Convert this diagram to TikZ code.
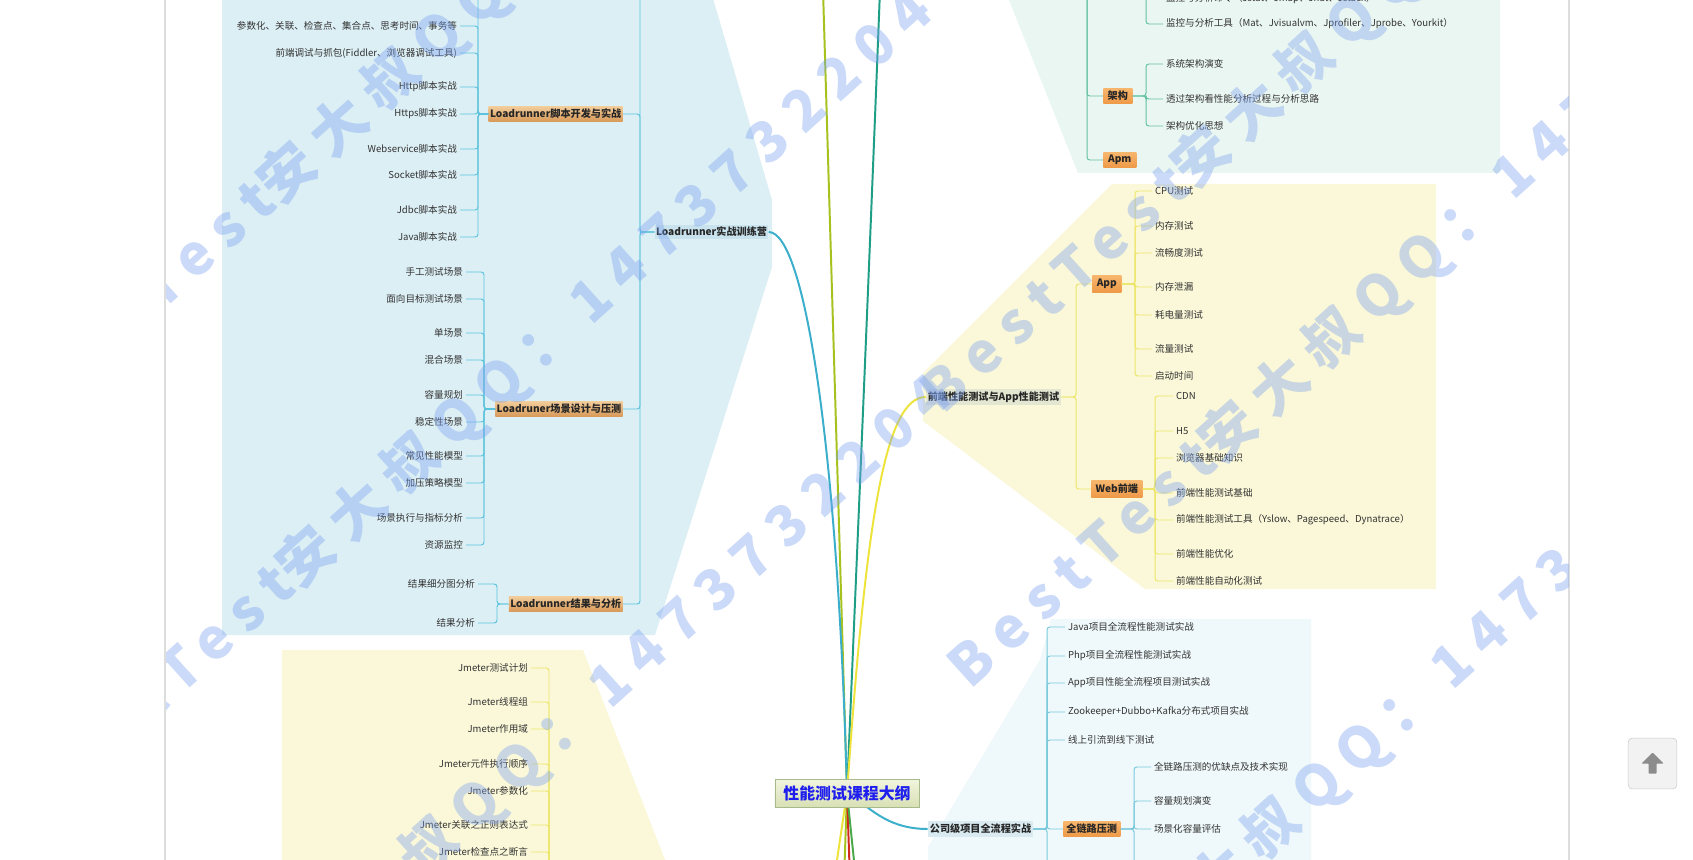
\documentclass[tikz,border=0pt]{standalone}
\usepackage{fontspec}
\setmainfont{Noto Sans CJK SC}
\newfontfamily\wmfont[LetterSpace=24]{Noto Sans CJK SC}
\usetikzlibrary{positioning}

\definecolor{regBlue}{HTML}{DCEFF5}
\definecolor{regGreen}{HTML}{EAF6F1}
\definecolor{regYellow}{HTML}{FAF8D8}
\definecolor{regCyan}{HTML}{EFF8FA}
\definecolor{lnBlue}{HTML}{5CC3DC}
\definecolor{lnGreen}{HTML}{63C1A4}
\definecolor{lnYellow}{HTML}{EDE66B}
\definecolor{lnCyan}{HTML}{79CADC}
\definecolor{tanTop}{HTML}{F1CB98}
\definecolor{tanBot}{HTML}{D89A5A}
\definecolor{orTop}{HTML}{F7B56C}
\definecolor{orBot}{HTML}{EE9A48}
\definecolor{campFill}{HTML}{C8E3EE}
\definecolor{feFill}{HTML}{E3E6D0}
\definecolor{compFill}{HTML}{D9EAF0}
\definecolor{rootTop}{HTML}{F2F5DE}
\definecolor{rootBot}{HTML}{D8E0B4}
\definecolor{rootEdge}{HTML}{A8B98C}
\definecolor{rootText}{HTML}{1E1EEE}
\definecolor{wmBlue}{HTML}{7AA0F0}
\definecolor{pageLine}{HTML}{DDDDDD}
\definecolor{itemText}{HTML}{333333}
\definecolor{cLR}{HTML}{3AAECB}
\definecolor{cYG}{HTML}{A6C21E}
\definecolor{cTeal}{HTML}{1E9E86}
\definecolor{cYel}{HTML}{EEE33A}
\definecolor{cRed}{HTML}{D42A1E}
\definecolor{cGrn}{HTML}{4AA84A}

\begin{document}
\begin{tikzpicture}[x=0.025cm, y=-0.025cm,
    item/.style={font=\fontsize{6.8}{8}\selectfont, text=itemText, inner xsep=2pt, inner ysep=1pt},
    litem/.style={item, anchor=east},
    ritem/.style={item, anchor=west},
    topic/.style={font=\fontsize{7.2}{8}\selectfont\bfseries, text=black!85, inner xsep=1pt, inner ysep=0pt, minimum height=0.36cm},
    tanbox/.style={topic, top color=tanTop, bottom color=tanBot},
    orbox/.style={topic, top color=orTop, bottom color=orBot},
    rootbox/.style={draw=rootEdge, top color=rootTop, bottom color=rootBot, text=rootText, font=\fontsize{11.3}{13}\selectfont\bfseries, minimum width=3.6cm, minimum height=0.7cm},
    bline/.style={draw=lnBlue, line width=0.7pt, rounded corners=2pt},
    gline/.style={draw=lnGreen, line width=0.7pt, rounded corners=2pt},
    yline/.style={draw=lnYellow, line width=0.7pt, rounded corners=2pt},
    cline/.style={draw=lnCyan, line width=0.7pt, rounded corners=2pt},
    trunk/.style={line width=1.4pt},
    wm/.style={font=\wmfont\bfseries\fontsize{40}{40}\selectfont, text=wmBlue, text opacity=0.38, rotate=42, inner sep=0pt},
]
\useasboundingbox (0,0) rectangle (1693,860);
\clip (0,0) rectangle (1693,860);
\fill[white] (0,0) rectangle (1693,860);
\draw[pageLine, line width=0.8pt] (165,0) -- (165,860);
\draw[pageLine, line width=0.8pt] (1569,0) -- (1569,860);

% 区域底色
\fill[regBlue] (222,-5) -- (712,-5) -- (772,200) -- (772,267) -- (655,635) -- (222,635) -- cycle;
\fill[regYellow] (282,650) -- (583,650) -- (669,870) -- (282,870) -- cycle;
\fill[regGreen] (1007,-5) -- (1500,-5) -- (1500,173) -- (1078,173) -- cycle;
\fill[regYellow] (1112,184) -- (1436,184) -- (1436,589) -- (1145,589) -- (923,421) -- (923,373) -- cycle;
\fill[regCyan] (1051,619) -- (1311,619) -- (1311,870) -- (928,870) -- (928,847) -- (1040,660) -- cycle;

% 主题节点
\node[topic, fill=campFill, minimum width=2.825cm] (camp) at (711.5,232) {Loadrunner实战训练营};
\node[topic, fill=feFill, minimum width=3.375cm, minimum height=0.4cm] (fe) at (993.5,397) {前端性能测试与App性能测试};
\node[topic, fill=compFill, minimum width=2.625cm, minimum height=0.4cm] (comp) at (980.5,829) {公司级项目全流程实战};

% 中心连线
\coordinate (topA) at (823,-10);
\coordinate (topB) at (880,-10);
\coordinate (botA) at (834,880);
\coordinate (botB) at (844,880);
\coordinate (botC) at (850,880);
\coordinate (botD) at (856,880);
\draw[trunk, cYG] (topA) -- (847,793);
\draw[trunk, cTeal] (topB) .. controls (868,300) and (855,600) .. (847,793);
\draw[trunk, cLR] (camp.east) .. controls (805,232) and (838,450) .. (847,793);
\draw[trunk, cYel] (fe.west) .. controls (885,397) and (866,520) .. (847,793);
\draw[trunk, cYel] (847,793) -- (botA);
\draw[trunk, cYG] (847,793) -- (botB);
\draw[trunk, cRed] (847,793) -- (botC);
\draw[trunk, cGrn] (847,793) -- (botD);
\draw[trunk, cLR] (847,793) .. controls (868,805) and (885,829) .. (comp.west);
\node[rootbox] (root) at (847,793) {性能测试课程大纲};

% Loadrunner 分支
\coordinate (spc) at (640,0);
\coordinate (sp1) at (478,0);
\coordinate (sp2) at (484,0);
\coordinate (sp3) at (497,0);
\node[tanbox, anchor=east, minimum width=3.275cm] (lrdev) at (623,114) {Loadrunner脚本开发与实战};
\node[tanbox, anchor=east, minimum width=3.125cm] (lrscene) at (623,409) {Loadruner场景设计与压测};
\node[tanbox, anchor=east, minimum width=2.8cm] (lrres) at (623,604) {Loadrunner结果与分析};
\coordinate (camp0) at (625,-12);
\draw[bline] (camp.west) -- (spc |- camp.west) |- (camp0);
\foreach \c in {lrdev, lrscene, lrres}
  \draw[bline] (camp.west) -- (spc |- camp.west) |- (\c.east);

\node[litem] (lrd1) at (460,26) {参数化、关联、检查点、集合点、思考时间、事务等};
\node[litem] (lrd2) at (460,53) {前端调试与抓包(Fiddler、浏览器调试工具)};
\node[litem] (lrd3) at (460,87) {Http脚本实战};
\node[litem] (lrd4) at (460,114) {Https脚本实战};
\node[litem] (lrd5) at (460,149) {Webservice脚本实战};
\node[litem] (lrd6) at (460,175) {Socket脚本实战};
\node[litem] (lrd7) at (460,210) {Jdbc脚本实战};
\node[litem] (lrd8) at (460,237) {Java脚本实战};
\coordinate (lrd0) at (460,-12);
\draw[bline] (lrdev.west) -- (sp1 |- lrdev.west) |- (lrd0);
\foreach \i in {1,...,8}
  \draw[bline] (lrdev.west) -- (sp1 |- lrdev.west) |- (lrd\i.east);

\node[litem] (lrs1) at (466,272) {手工测试场景};
\node[litem] (lrs2) at (466,299) {面向目标测试场景};
\node[litem] (lrs3) at (466,333) {单场景};
\node[litem] (lrs4) at (466,360) {混合场景};
\node[litem] (lrs5) at (466,395) {容量规划};
\node[litem] (lrs6) at (466,422) {稳定性场景};
\node[litem] (lrs7) at (466,456) {常见性能模型};
\node[litem] (lrs8) at (466,483) {加压策略模型};
\node[litem] (lrs9) at (466,518) {场景执行与指标分析};
\node[litem] (lrs10) at (466,545) {资源监控};
\foreach \i in {1,...,10}
  \draw[bline] (lrscene.west) -- (sp2 |- lrscene.west) |- (lrs\i.east);

\node[litem] (lrr1) at (478,584) {结果细分图分析};
\node[litem] (lrr2) at (478,623) {结果分析};
\foreach \i in {1,2}
  \draw[bline] (lrres.west) -- (sp3 |- lrres.west) |- (lrr\i.east);

% Jmeter 分支
\coordinate (spj) at (549,0);
\coordinate (jmhub) at (570,900);
\node[litem] (jm1) at (531,668) {Jmeter测试计划};
\node[litem] (jm2) at (531,702) {Jmeter线程组};
\node[litem] (jm3) at (531,729) {Jmeter作用域};
\node[litem] (jm4) at (531,764) {Jmeter元件执行顺序};
\node[litem] (jm5) at (531,791) {Jmeter参数化};
\node[litem] (jm6) at (531,825) {Jmeter关联之正则表达式};
\node[litem] (jm7) at (531,852) {Jmeter检查点之断言};
\foreach \i in {1,...,7}
  \draw[yline] (jmhub) -- (spj |- jmhub) |- (jm\i.east);

% 监控与架构分支
\coordinate (spg) at (1087,0);
\coordinate (spg2) at (1146,0);
\coordinate (grhub) at (1060,-15);
\coordinate (monhub) at (1130,-15);
\node[orbox, anchor=west, minimum width=0.725cm] (arch) at (1103,96) {架构};
\node[orbox, anchor=west, minimum width=0.825cm] (apm) at (1103,160) {Apm};
\foreach \c in {arch, apm}
  \draw[gline] (grhub) -- (spg |- grhub) |- (\c.west);
\node[ritem] (mon1) at (1163,-1) {监控与分析命令（Jstat、Jmap、Jhat、Jstack）};
\node[ritem] (mon2) at (1163,24) {监控与分析工具（Mat、Jvisualvm、Jprofiler、Jprobe、Yourkit）};
\foreach \c in {mon1, mon2}
  \draw[gline] (monhub) -- (spg2 |- monhub) |- (\c.west);
\node[ritem] (ar1) at (1163,64) {系统架构演变};
\node[ritem] (ar2) at (1163,99) {透过架构看性能分析过程与分析思路};
\node[ritem] (ar3) at (1163,126) {架构优化思想};
\foreach \i in {1,2,3}
  \draw[gline] (arch.east) -- (spg2 |- arch.east) |- (ar\i.west);

% 前端与 App 分支
\coordinate (spf) at (1076,0);
\coordinate (spa) at (1135,0);
\coordinate (spw) at (1155,0);
\node[orbox, anchor=west, minimum width=0.725cm, minimum height=0.4cm] (app) at (1092,284) {App};
\node[orbox, anchor=west, minimum width=1.275cm, minimum height=0.4cm] (web) at (1091,489) {Web前端};
\foreach \c in {app, web}
  \draw[yline] (fe.east) -- (spf |- fe.east) |- (\c.west);
\node[ritem] (ap1) at (1152,191) {CPU测试};
\node[ritem] (ap2) at (1152,226) {内存测试};
\node[ritem] (ap3) at (1152,253) {流畅度测试};
\node[ritem] (ap4) at (1152,287) {内存泄漏};
\node[ritem] (ap5) at (1152,315) {耗电量测试};
\node[ritem] (ap6) at (1152,349) {流量测试};
\node[ritem] (ap7) at (1152,376) {启动时间};
\foreach \i in {1,...,7}
  \draw[yline] (app.east) -- (spa |- app.east) |- (ap\i.west);
\node[ritem] (wb1) at (1173,396) {CDN};
\node[ritem] (wb2) at (1173,431) {H5};
\node[ritem] (wb3) at (1173,458) {浏览器基础知识};
\node[ritem] (wb4) at (1173,493) {前端性能测试基础};
\node[ritem] (wb5) at (1173,520) {前端性能测试工具（Yslow、Pagespeed、Dynatrace）};
\node[ritem] (wb6) at (1173,554) {前端性能优化};
\node[ritem] (wb7) at (1173,581) {前端性能自动化测试};
\foreach \i in {1,...,7}
  \draw[yline] (web.east) -- (spw |- web.east) |- (wb\i.west);

% 项目实战分支
\coordinate (spp) at (1047,0);
\coordinate (spq) at (1134,0);
\coordinate (compend) at (1065,880);
\coordinate (chend) at (1151,880);
\node[orbox, anchor=west, minimum width=1.425cm] (chain) at (1063,829) {全链路压测};
\node[ritem] (pj1) at (1065,627) {Java项目全流程性能测试实战};
\node[ritem] (pj2) at (1065,656) {Php项目全流程性能测试实战};
\node[ritem] (pj3) at (1065,683) {App项目性能全流程项目测试实战};
\node[ritem] (pj4) at (1065,712) {Zookeeper+Dubbo+Kafka分布式项目实战};
\node[ritem] (pj5) at (1065,740) {线上引流到线下测试};
\draw[cline] (comp.east) -- (spp |- comp.east) |- (compend);
\foreach \c in {pj1, pj2, pj3, pj4, pj5, chain}
  \draw[cline] (comp.east) -- (spp |- comp.east) |- (\c.west);
\node[ritem] (ch1) at (1151,767) {全链路压测的优缺点及技术实现};
\node[ritem] (ch2) at (1151,801) {容量规划演变};
\node[ritem] (ch3) at (1151,829) {场景化容量评估};
\draw[cline] (chain.east) -- (spq |- chain.east) |- (chend);
\foreach \i in {1,2,3}
  \draw[cline] (chain.east) -- (spq |- chain.east) |- (ch\i.west);

% 返回顶部按钮
\node[draw=black!20, fill=black!5, rounded corners=3pt, minimum width=1.22cm, minimum height=1.27cm] (totop) at (1652.5,763.5) {};
\fill[black!45, rounded corners=0.5pt] ([shift={(0,-11)}]totop.center) -- ([shift={(11,0)}]totop.center) -- ([shift={(4,0)}]totop.center) -- ([shift={(4,10)}]totop.center) -- ([shift={(-4,10)}]totop.center) -- ([shift={(-4,0)}]totop.center) -- ([shift={(-11,0)}]totop.center) -- cycle;

% 水印
\begin{scope}
\clip (166,0) rectangle (1568,860);
\foreach \n/\x/\y in {wa/286/173, wb/305/557, wc/324/941, wd/1200/157, we/1227/432, wf/1166/922} {
  \node[wm, anchor=base east] (\n1) at (\x-7,\y+34) {BestTest\hspace{0.3em}};
  \node[wm, anchor=base west] (\n2) at (\x-7,\y+34) {安大叔QQ：1473732204};
}
\end{scope}
\end{tikzpicture}
\end{document}
